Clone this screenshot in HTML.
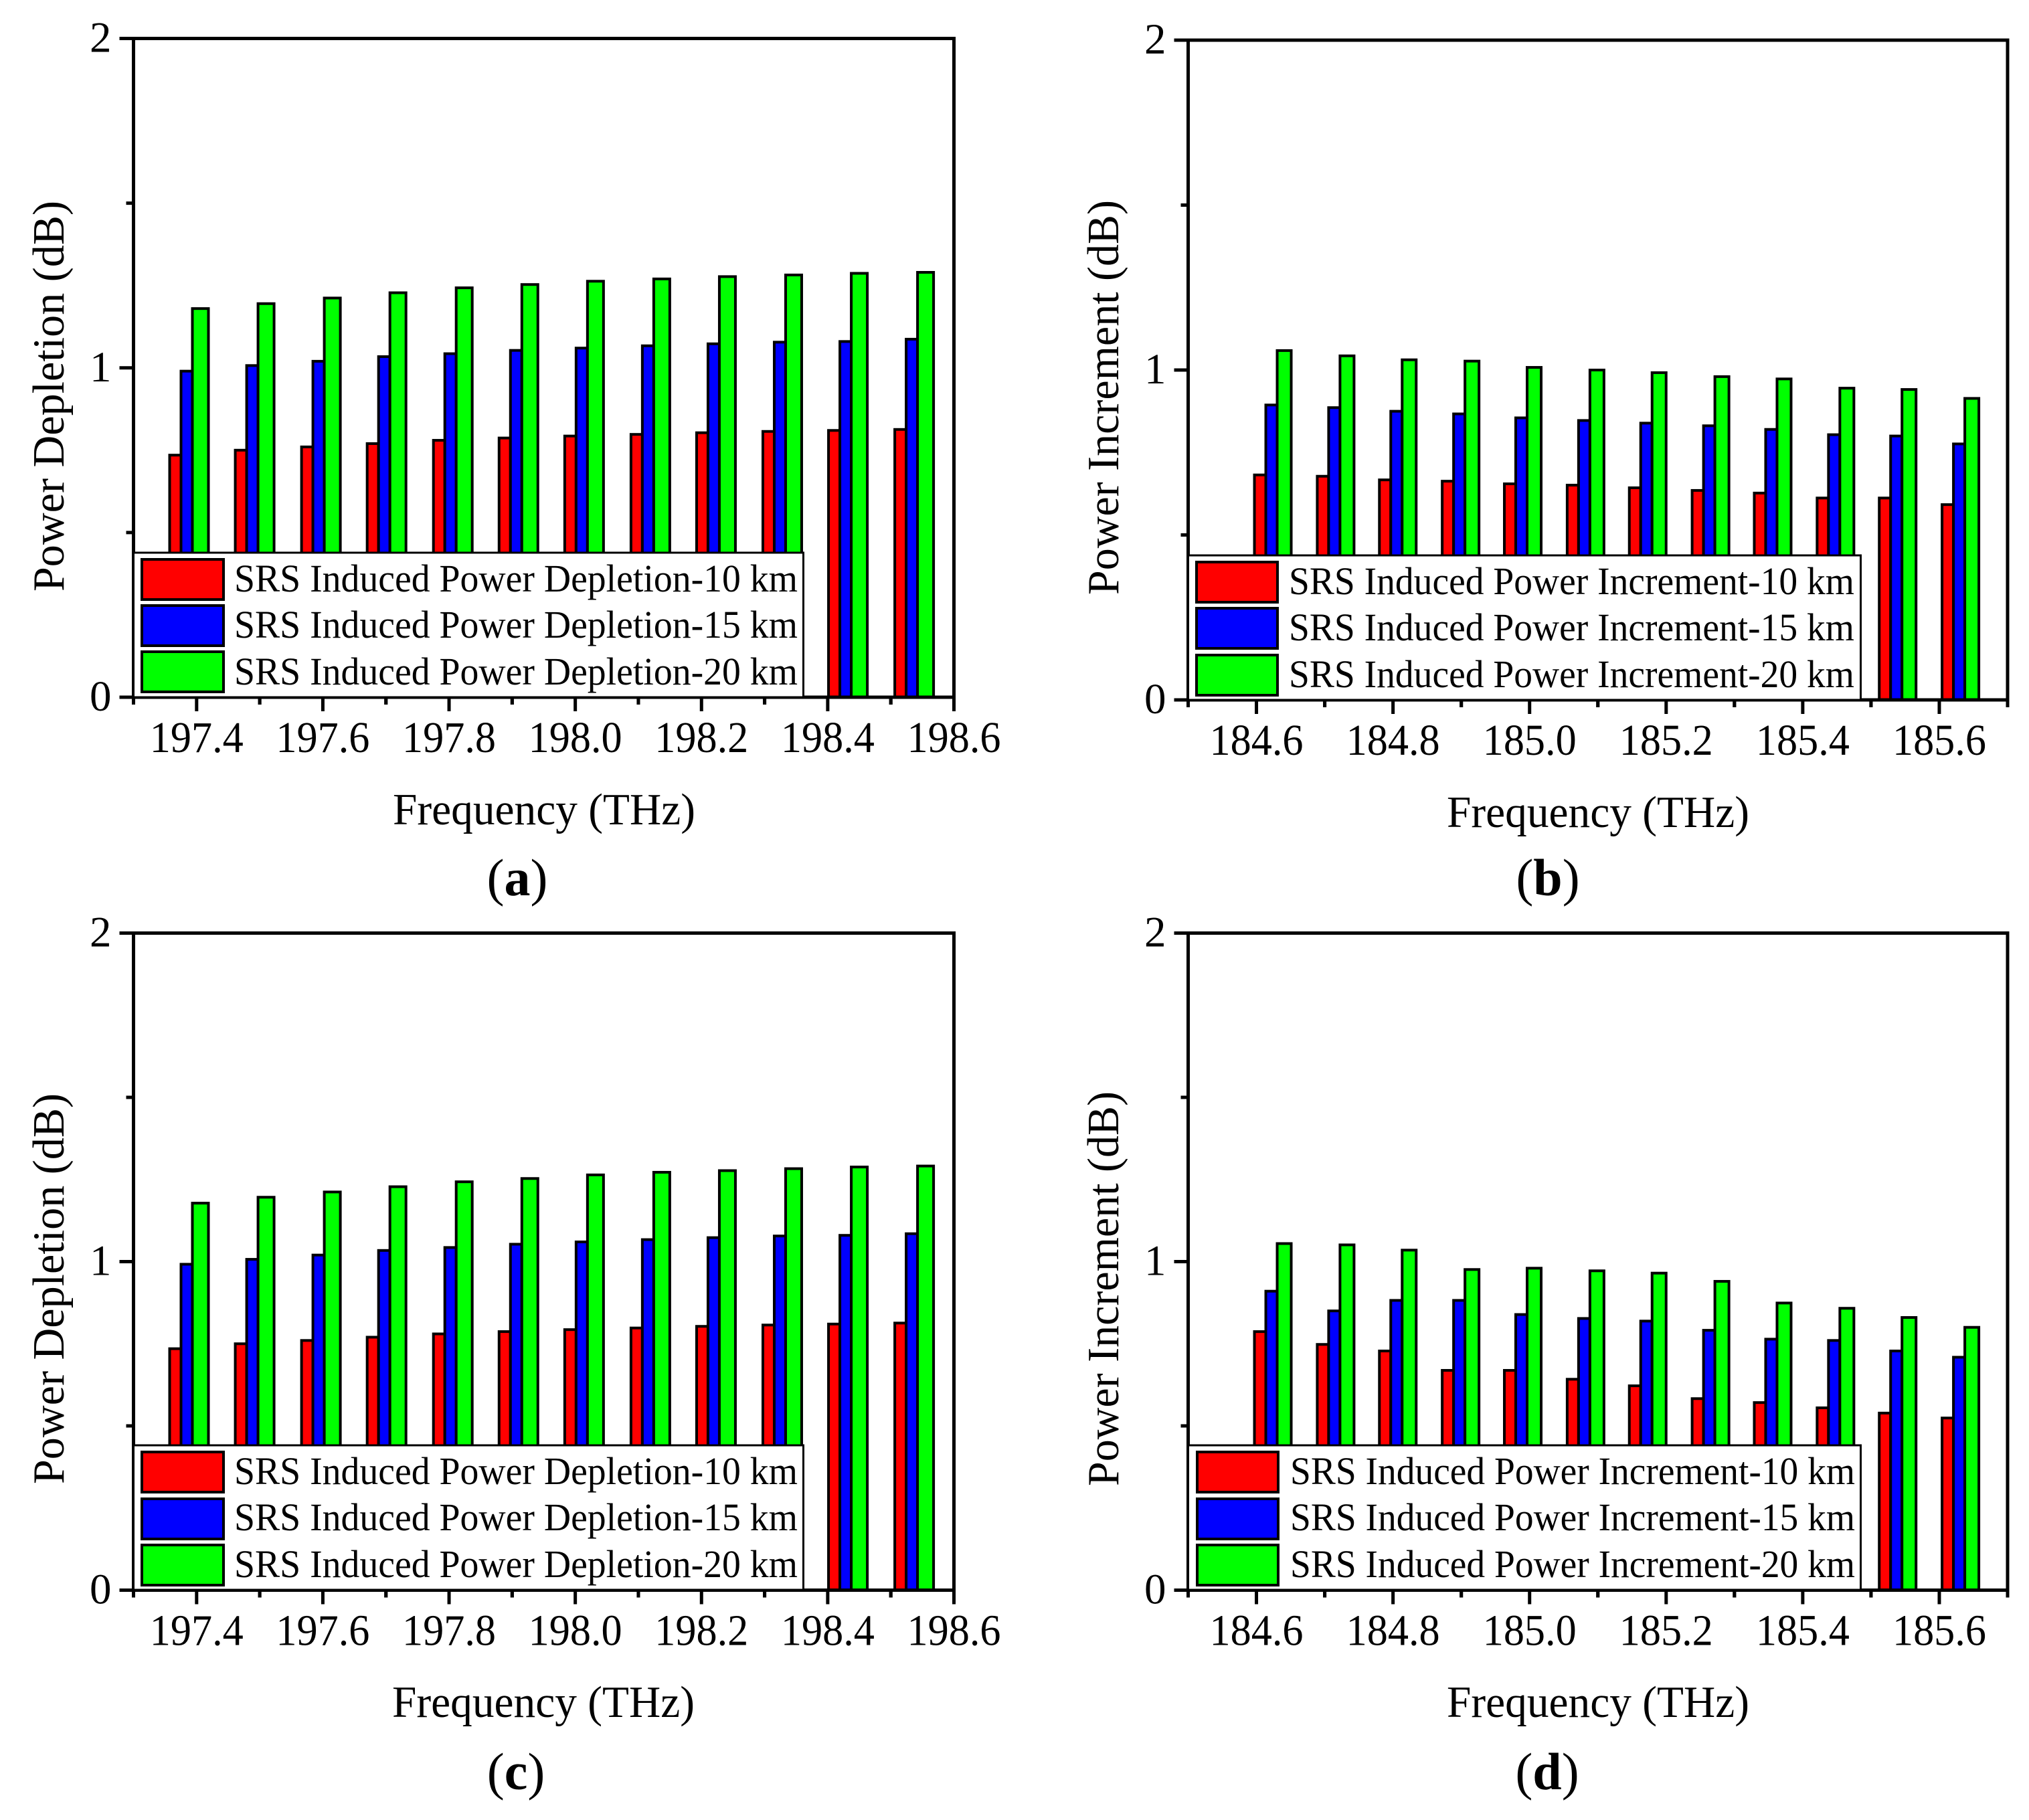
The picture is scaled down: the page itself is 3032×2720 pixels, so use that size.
<!DOCTYPE html>
<html lang="en">
<head>
<meta charset="utf-8">
<title>SRS Induced Power Depletion and Increment</title>
<style>
html,body{margin:0;padding:0;background:#fff;width:3032px;height:2720px;overflow:hidden}
svg{display:block}
text{font-family:"Liberation Serif","Times New Roman",serif;fill:#000}
.legend-text{font-size:58px}
.axis-title{font-size:67px}
.panel-label{font-size:78px}
.panel-label .b{font-weight:bold}
</style>
</head>
<body>
<svg id="figure" xmlns="http://www.w3.org/2000/svg" width="3032" height="2720" viewBox="0 0 3032 2720">
  <rect x="0" y="0" width="3032" height="2720" fill="#fff"/>

  <g id="panel-a">
    <g class="marks"></g>
    <g class="axes"></g>
    <g>
      <rect x="199.5" y="826" width="1001" height="216" fill="#fff" stroke="#000" stroke-width="3"/>
      <rect x="212" y="836" width="122" height="60" fill="#f00" stroke="#000" stroke-width="4"/>
      <rect x="212" y="905" width="122" height="60" fill="#00f" stroke="#000" stroke-width="4"/>
      <rect x="212" y="974" width="122" height="60" fill="#0f0" stroke="#000" stroke-width="4"/>
      <text class="legend-text" x="350" y="884" textLength="842" lengthAdjust="spacingAndGlyphs">SRS Induced Power Depletion-10 km</text>
      <text class="legend-text" x="350" y="953" textLength="842" lengthAdjust="spacingAndGlyphs">SRS Induced Power Depletion-15 km</text>
      <text class="legend-text" x="350" y="1023" textLength="842" lengthAdjust="spacingAndGlyphs">SRS Induced Power Depletion-20 km</text>
    </g>
    <text class="axis-title" x="813" y="1232" text-anchor="middle" textLength="452" lengthAdjust="spacingAndGlyphs">Frequency (THz)</text>
    <text class="axis-title" transform="translate(95 592) rotate(-90)" text-anchor="middle" textLength="584" lengthAdjust="spacingAndGlyphs">Power Depletion (dB)</text>
    <text class="panel-label" x="773" y="1338" text-anchor="middle">(<tspan class="b">a</tspan>)</text>
  </g>

  <g id="panel-b">
    <g class="marks"></g>
    <g class="axes"></g>
    <g>
      <rect x="1775.5" y="830" width="1005" height="216" fill="#fff" stroke="#000" stroke-width="3"/>
      <rect x="1788" y="840" width="121" height="60" fill="#f00" stroke="#000" stroke-width="4"/>
      <rect x="1788" y="909" width="121" height="60" fill="#00f" stroke="#000" stroke-width="4"/>
      <rect x="1788" y="979" width="121" height="60" fill="#0f0" stroke="#000" stroke-width="4"/>
      <text class="legend-text" x="1926" y="888" textLength="845" lengthAdjust="spacingAndGlyphs">SRS Induced Power Increment-10 km</text>
      <text class="legend-text" x="1926" y="957" textLength="845" lengthAdjust="spacingAndGlyphs">SRS Induced Power Increment-15 km</text>
      <text class="legend-text" x="1926" y="1027" textLength="845" lengthAdjust="spacingAndGlyphs">SRS Induced Power Increment-20 km</text>
    </g>
    <text class="axis-title" x="2388" y="1236" text-anchor="middle" textLength="452" lengthAdjust="spacingAndGlyphs">Frequency (THz)</text>
    <text class="axis-title" transform="translate(1671 594) rotate(-90)" text-anchor="middle" textLength="590" lengthAdjust="spacingAndGlyphs">Power Increment (dB)</text>
    <text class="panel-label" x="2313" y="1338" text-anchor="middle">(<tspan class="b">b</tspan>)</text>
  </g>

  <g id="panel-c">
    <g class="marks"></g>
    <g class="axes"></g>
    <g>
      <rect x="199.5" y="2160" width="1001" height="216" fill="#fff" stroke="#000" stroke-width="3"/>
      <rect x="212" y="2170" width="122" height="60" fill="#f00" stroke="#000" stroke-width="4"/>
      <rect x="212" y="2240" width="122" height="60" fill="#00f" stroke="#000" stroke-width="4"/>
      <rect x="212" y="2309" width="122" height="60" fill="#0f0" stroke="#000" stroke-width="4"/>
      <text class="legend-text" x="350" y="2218" textLength="842" lengthAdjust="spacingAndGlyphs">SRS Induced Power Depletion-10 km</text>
      <text class="legend-text" x="350" y="2287" textLength="842" lengthAdjust="spacingAndGlyphs">SRS Induced Power Depletion-15 km</text>
      <text class="legend-text" x="350" y="2357" textLength="842" lengthAdjust="spacingAndGlyphs">SRS Induced Power Depletion-20 km</text>
    </g>
    <text class="axis-title" x="812" y="2566" text-anchor="middle" textLength="452" lengthAdjust="spacingAndGlyphs">Frequency (THz)</text>
    <text class="axis-title" transform="translate(95 1926) rotate(-90)" text-anchor="middle" textLength="584" lengthAdjust="spacingAndGlyphs">Power Depletion (dB)</text>
    <text class="panel-label" x="771" y="2674" text-anchor="middle">(<tspan class="b">c</tspan>)</text>
  </g>

  <g id="panel-d">
    <g class="marks"></g>
    <g class="axes"></g>
    <g>
      <rect x="1775.5" y="2160" width="1005" height="216" fill="#fff" stroke="#000" stroke-width="3"/>
      <rect x="1789" y="2170" width="121" height="60" fill="#f00" stroke="#000" stroke-width="4"/>
      <rect x="1789" y="2240" width="121" height="60" fill="#00f" stroke="#000" stroke-width="4"/>
      <rect x="1789" y="2309" width="121" height="60" fill="#0f0" stroke="#000" stroke-width="4"/>
      <text class="legend-text" x="1928" y="2218" textLength="844" lengthAdjust="spacingAndGlyphs">SRS Induced Power Increment-10 km</text>
      <text class="legend-text" x="1928" y="2287" textLength="844" lengthAdjust="spacingAndGlyphs">SRS Induced Power Increment-15 km</text>
      <text class="legend-text" x="1928" y="2357" textLength="844" lengthAdjust="spacingAndGlyphs">SRS Induced Power Increment-20 km</text>
    </g>
    <text class="axis-title" x="2388" y="2566" text-anchor="middle" textLength="452" lengthAdjust="spacingAndGlyphs">Frequency (THz)</text>
    <text class="axis-title" transform="translate(1671 1926) rotate(-90)" text-anchor="middle" textLength="590" lengthAdjust="spacingAndGlyphs">Power Increment (dB)</text>
    <text class="panel-label" x="2312" y="2674" text-anchor="middle">(<tspan class="b">d</tspan>)</text>
  </g>
</svg>

<script>
var depletionFreqs = [197.388,197.492,197.597,197.701,197.806,197.910,198.014,198.119,198.223,198.328,198.432,198.537];
var incrementFreqs = [184.624,184.716,184.807,184.899,184.990,185.082,185.173,185.265,185.356,185.448,185.539,185.631];

var depletionTickLabels = ["197.4","197.6","197.8","198.0","198.2","198.4","198.6"];
var incrementTickLabels = ["184.6","184.8","185.0","185.2","185.4","185.6"];
var yTickLabels = ["0","1","2"];

var seriesNames = ["10km","15km","20km"];
var seriesColors = ["#f00","#00f","#0f0"];

var aRed   = [0.735,0.750,0.760,0.770,0.780,0.787,0.793,0.798,0.803,0.807,0.810,0.813];
var aBlue  = [0.990,1.007,1.020,1.034,1.043,1.053,1.060,1.067,1.073,1.078,1.080,1.087];
var aGreen = [1.180,1.195,1.212,1.228,1.243,1.253,1.263,1.270,1.277,1.282,1.287,1.290];

var bRed   = [0.682,0.678,0.667,0.663,0.655,0.651,0.643,0.635,0.627,0.612,0.612,0.592];
var bBlue  = [0.894,0.886,0.875,0.867,0.855,0.847,0.839,0.831,0.820,0.804,0.800,0.776];
var bGreen = [1.059,1.043,1.031,1.027,1.008,1.000,0.992,0.980,0.973,0.945,0.941,0.914];

var cRed   = [0.735,0.750,0.760,0.770,0.780,0.787,0.793,0.798,0.803,0.807,0.810,0.813];
var cBlue  = [0.992,1.007,1.020,1.034,1.043,1.053,1.060,1.067,1.073,1.078,1.080,1.085];
var cGreen = [1.178,1.196,1.212,1.228,1.243,1.253,1.264,1.272,1.277,1.283,1.288,1.291];

var dRed   = [0.787,0.748,0.728,0.669,0.669,0.642,0.622,0.583,0.571,0.555,0.539,0.524];
var dBlue  = [0.910,0.850,0.882,0.882,0.839,0.827,0.819,0.791,0.764,0.760,0.728,0.709];
var dGreen = [1.055,1.051,1.035,0.976,0.980,0.972,0.965,0.940,0.874,0.858,0.830,0.800];

var NS = "http://www.w3.org/2000/svg";

function makeX(layout){
  return function(f){
    return layout.left + (f - layout.xMin) / (layout.xMax - layout.xMin) * (layout.right - layout.left);
  };
}
function makeY(layout){
  return function(v){
    return layout.bottom - v / 2 * (layout.bottom - layout.top);
  };
}
function svgEl(tag, attrs){
  var el = document.createElementNS(NS, tag);
  for (var k in attrs) el.setAttribute(k, attrs[k]);
  return el;
}

function drawPanel(layout, freqs, red, blue, green, tickLabels){
  var root = document.getElementById(layout.id);
  var marks = root.querySelector(".marks");
  var axes = root.querySelector(".axes");
  var x = makeX(layout), y = makeY(layout);
  var series = [red, blue, green];
  var widths = [17, 17, layout.greenW];
  var groupW = widths[0] + widths[1] + widths[2];

  freqs.forEach(function(f, i){
    var cursor = x(f) - groupW / 2;
    for (var s = 0; s < 3; s++) {
      var top = y(series[s][i]);
      var bar = svgEl("rect", {
        x: cursor, y: top, width: widths[s], height: y(0) - top,
        fill: seriesColors[s], stroke: "#000", "stroke-width": 4
      });
      
      
      marks.appendChild(bar);
      cursor += widths[s];
    }
  });

  var frame = svgEl("rect", {
    x: layout.left, y: layout.top,
    width: layout.right - layout.left, height: layout.bottom - layout.top,
    fill: "none", stroke: "#000", "stroke-width": 5
  });
  
  
  axes.appendChild(frame);

  yTickLabels.forEach(function(lab, i){
    var v = Number(lab);
    var t = svgEl("line", {x1: layout.left - 21, x2: layout.left, y1: y(v), y2: y(v), stroke: "#000", "stroke-width": 5});
    
    
    axes.appendChild(t);
    var tx = svgEl("text", {x: layout.left - 33, y: y(v) + 20, "text-anchor": "end", "font-size": 65});
    tx.textContent = lab;
    
    
    axes.appendChild(tx);
    if (i < yTickLabels.length - 1) {
      var m = svgEl("line", {x1: layout.left - 11, x2: layout.left, y1: y(v + 0.5), y2: y(v + 0.5), stroke: "#000", "stroke-width": 5});
      
      
      axes.appendChild(m);
    }
  });

  tickLabels.forEach(function(lab){
    var f = Number(lab);
    var px = x(f);
    var t = svgEl("line", {x1: px, x2: px, y1: layout.bottom, y2: layout.bottom + 21, stroke: "#000", "stroke-width": 5});
    
    
    axes.appendChild(t);
    var tx = svgEl("text", {x: px, y: layout.bottom + 82, "text-anchor": "middle", "font-size": 66, textLength: 140, lengthAdjust: "spacingAndGlyphs"});
    tx.textContent = lab;
    
    
    axes.appendChild(tx);
    [-0.1, 0.1].forEach(function(d){
      var mf = f + d;
      if (mf < layout.xMin - 1e-6 || mf > layout.xMax + 1e-6) return;
      var mpx = x(mf);
      var m = svgEl("line", {x1: mpx, x2: mpx, y1: layout.bottom, y2: layout.bottom + 11, stroke: "#000", "stroke-width": 5});
      
      
      axes.appendChild(m);
    });
  });
}

drawPanel({id:"panel-a", left:199.5, right:1425.5, top:57.5, bottom:1042, xMin:197.3, xMax:198.6, greenW:24}, depletionFreqs, aRed, aBlue, aGreen, depletionTickLabels);
drawPanel({id:"panel-b", left:1775.5, right:3000, top:60, bottom:1046, xMin:184.5, xMax:185.7, greenW:21}, incrementFreqs, bRed, bBlue, bGreen, incrementTickLabels);
drawPanel({id:"panel-c", left:199.5, right:1425.5, top:1394.5, bottom:2376.5, xMin:197.3, xMax:198.6, greenW:24}, depletionFreqs, cRed, cBlue, cGreen, depletionTickLabels);
drawPanel({id:"panel-d", left:1775.5, right:3000, top:1394.5, bottom:2376.5, xMin:184.5, xMax:185.7, greenW:21}, incrementFreqs, dRed, dBlue, dGreen, incrementTickLabels);
</script>
</body>
</html>
